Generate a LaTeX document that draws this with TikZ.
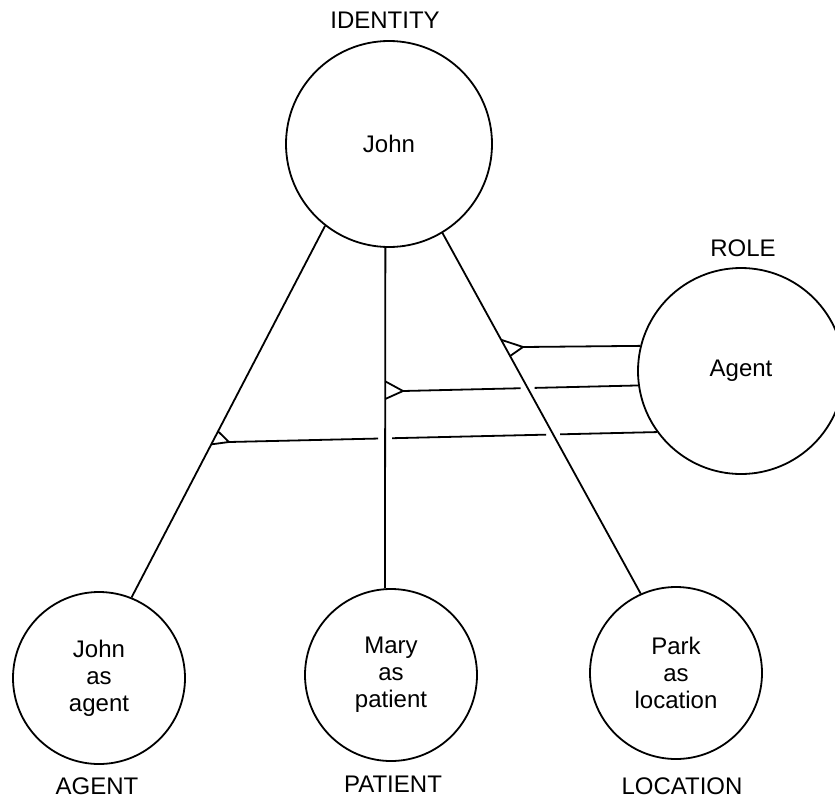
\documentclass[tikz,border=0pt]{standalone}
\usepackage{fontspec}
\setmainfont{Liberation Sans}
\usepackage{tikz}
\usetikzlibrary{calc,intersections}

\begin{document}
\begin{tikzpicture}[x=0.5pt,y=-0.5pt,
  concept/.style={draw,circle,line width=0.9pt,inner sep=0pt,align=center,font=\fontsize{12}{13.5}\selectfont},
  big/.style={concept,minimum size=103pt},
  small/.style={concept,minimum size=86pt},
  lab/.style={font=\fontsize{12}{13.5}\selectfont,inner sep=1pt},
  link/.style={line width=0.9pt,line join=round}]
\useasboundingbox (0,0) rectangle (835,798);
\node[big] (john) at (389,144) {John};
\node[big] (agentrole) at (741,371) {Agent};
\node[small] (johnagent) at (99,678) {John\\as\\agent};
\node[small] (marypatient) at (391,675) {Mary\\as\\patient};
\node[small] (parklocation) at (676,673) {Park\\as\\location};
\node[lab] (identity) at (385,20) {IDENTITY};
\node[lab] (role) at (743,248) {ROLE};
\node[lab] (agent) at (97,786) {AGENT};
\node[lab] (patient) at (393,784) {PATIENT};
\node[lab] (location) at (682,786) {LOCATION};
\draw[link,name path=leftlink] (john.232) -- coordinate[pos=0.553] (la) coordinate[pos=0.588] (lb) (johnagent.68);
\draw[link,name path=midlink] (john.268) -- coordinate[pos=0.392] (ma) coordinate[pos=0.444] (mb) (marypatient.94);
\draw[link,name path=rightlink] (john.301) -- coordinate[pos=0.296] (ua) coordinate[pos=0.341] (ub) (parklocation.114);
\coordinate (uapex) at (523,347);
\coordinate (mapex) at (403,391);
\coordinate (lapex) at (229,442);
\draw[link] (ua) -- (uapex) -- (ub);
\draw[link] (ma) -- (mapex) -- (mb);
\draw[link] (la) -- (lapex) -- (lb);
\path[name path=mhor] (mapex) -- (agentrole.188);
\path[name path=lhor] (lapex) -- (agentrole.216);
\path[name intersections={of=rightlink and mhor,by=mx}];
\path[name intersections={of=midlink and lhor,by=lx}];
\path[name intersections={of=rightlink and lhor,by=ly}];
\draw[link] (uapex) -- (agentrole.166);
\draw[link] (mapex) -- ($(mx)!3.5pt!(mapex)$) ($(mx)!3.5pt!(agentrole.188)$) -- (agentrole.188);
\draw[link] (lapex) -- ($(lx)!3.5pt!(lapex)$) ($(lx)!3.5pt!(ly)$) -- ($(ly)!3.5pt!(lx)$) ($(ly)!3.5pt!(agentrole.216)$) -- (agentrole.216);
\end{tikzpicture}
\end{document}
